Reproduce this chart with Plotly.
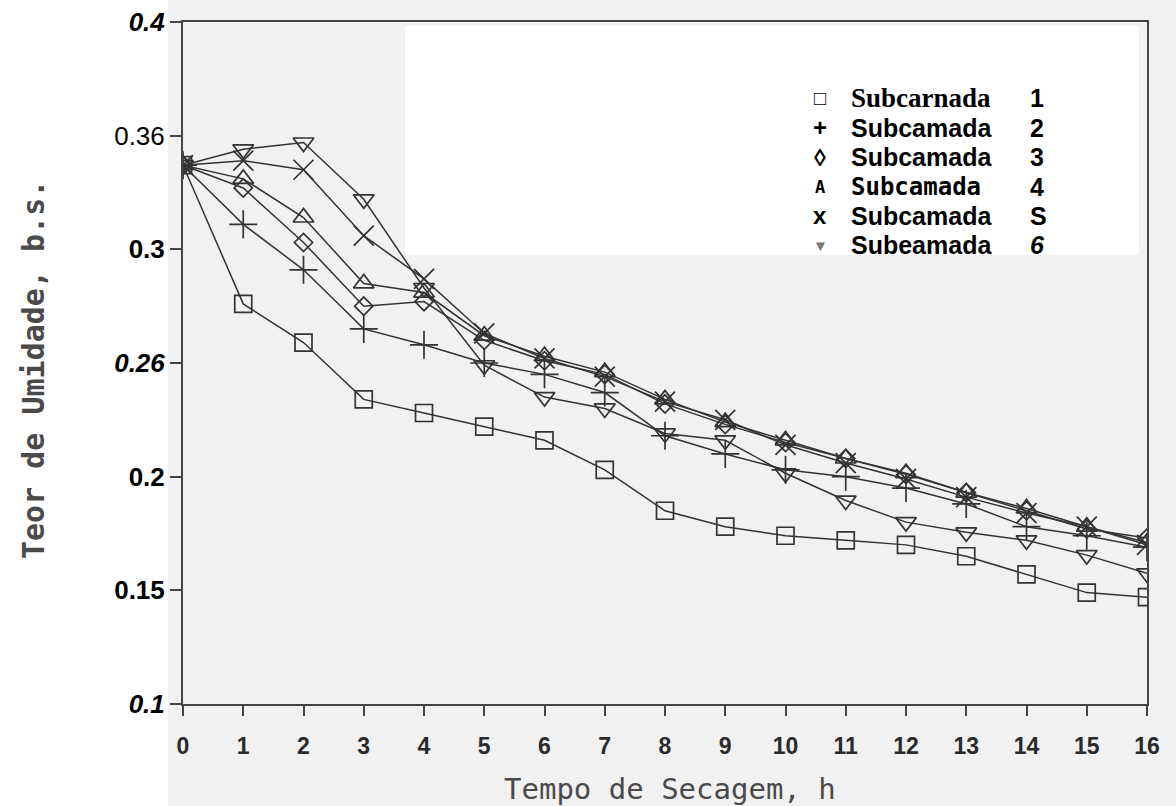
import plotly.graph_objects as go

# Drying time (h) and moisture content (dry basis) for six sub-layers
tempo = list(range(17))
sub1 = [0.337, 0.276, 0.259, 0.234, 0.228, 0.222, 0.216, 0.203, 0.185, 0.178, 0.174, 0.172, 0.170, 0.165, 0.157, 0.149, 0.147]
sub2 = [0.337, 0.311, 0.291, 0.265, 0.258, 0.250, 0.245, 0.237, 0.218, 0.210, 0.203, 0.200, 0.195, 0.188, 0.178, 0.174, 0.169]
sub3 = [0.337, 0.327, 0.303, 0.275, 0.277, 0.260, 0.251, 0.245, 0.232, 0.223, 0.215, 0.208, 0.201, 0.193, 0.185, 0.177, 0.173]
sub4 = [0.337, 0.331, 0.314, 0.285, 0.281, 0.262, 0.253, 0.246, 0.234, 0.224, 0.216, 0.208, 0.2015, 0.193, 0.186, 0.178, 0.171]
sub5 = [0.337, 0.339, 0.335, 0.306, 0.287, 0.263, 0.252, 0.244, 0.233, 0.225, 0.214, 0.206, 0.199, 0.191, 0.184, 0.178, 0.170]
sub6 = [0.337, 0.344, 0.347, 0.322, 0.283, 0.249, 0.235, 0.230, 0.219, 0.216, 0.2015, 0.1895, 0.180, 0.1755, 0.172, 0.1655, 0.1575]

y_tick_vals = [0.1, 0.15, 0.2, 0.25, 0.3, 0.35, 0.4]
y_tick_labels = ["0.1", "0.15", "0.2", "0.26", "0.3", "0.36", "0.4"]
y_tick_styles = ["<b><i>{}</i></b>", "<b>{}</b>", "<b>{}</b>", "<b><i>{}</i></b>", "<b>{}</b>", "{}", "<b><i>{}</i></b>"]
x_tick_labels = [str(v) for v in tempo]

legend_symbols = ["\u25a1", "+", "\u25ca", "A", "x", "\u25bc"]
legend_names = ["Subcarnada", "Subcamada", "Subcamada", "Subcamada", "Subcamada", "Subeamada"]
legend_nums = ["1", "2", "3", "4", "S", "<i>6</i>"]

series = [sub1, sub2, sub3, sub4, sub5, sub6]
symbols = ["square-open", "cross-thin", "diamond-open", "triangle-up-open", "x-thin", "triangle-down-open"]
sizes = [17, 20, 14, 18, 20, 18]

W, H = 1176, 806
L, R, T, B = 183, 1147, 22, 704


def px(x):
    return (x - L) / (R - L)


def py(y):
    return (B - y) / (B - T)


fig = go.Figure()
for vals, sym, sz in zip(series, symbols, sizes):
    fig.add_trace(go.Scatter(
        x=tempo, y=vals, mode="lines+markers",
        line=dict(color="#333333", width=1.5),
        marker=dict(symbol=sym, size=sz, color="#333333",
                    line=dict(color="#333333", width=1.7)),
        showlegend=False,
    ))

shapes = [
    # white strip behind the y tick labels
    dict(type="rect", xref="paper", yref="paper", x0=px(0), x1=px(168),
         y0=py(H), y1=py(0), fillcolor="white", line_width=0, layer="below"),
    # white panel holding the key
    dict(type="rect", xref="paper", yref="paper", x0=px(405), x1=px(1139),
         y0=py(255), y1=py(26), fillcolor="white", line_width=0, layer="below"),
]

annotations = []
row_y = [98, 128, 157, 187, 216, 245]
for i, (sym, name, num, yy) in enumerate(zip(legend_symbols, legend_names, legend_nums, row_y)):
    sym_color = "#777" if i == 5 else "black"
    sym_size = {0: 20, 3: 17, 5: 15}.get(i, 24)
    annotations.append(dict(
        xref="paper", yref="paper", x=px(820), y=py(yy), xanchor="center", yanchor="middle",
        text="<b>{}</b>".format(sym), showarrow=False,
        font=dict(size=sym_size, color=sym_color,
                  family="DejaVu Sans Mono" if i == 3 else "Liberation Sans"),
    ))
    name_font = "Liberation Serif" if i == 0 else ("DejaVu Sans Mono" if i == 3 else "Liberation Sans")
    annotations.append(dict(
        xref="paper", yref="paper", x=px(849), y=py(yy), xanchor="left", yanchor="middle",
        text="<b>{}</b>".format(name), showarrow=False,
        font=dict(size={0: 27, 3: 24}.get(i, 25), color="black", family=name_font),
    ))
    annotations.append(dict(
        xref="paper", yref="paper", x=px(1028), y=py(yy), xanchor="left", yanchor="middle",
        text="<b>{}</b>".format(num), showarrow=False,
        font=dict(size=25, color="black", family="Liberation Sans"),
    ))

annotations.append(dict(
    xref="paper", yref="paper", x=px(670), y=py(789), xanchor="center", yanchor="middle",
    text="Tempo de Secagem, h", showarrow=False,
    font=dict(size=29, color="#4a4a4a", family="DejaVu Sans Mono"),
))
annotations.append(dict(
    xref="paper", yref="paper", x=px(33), y=py(370), xanchor="center", yanchor="middle",
    text="<b>Teor de Umidade, b.s.</b>", textangle=-90, showarrow=False,
    font=dict(size=30, color="#4a4a4a", family="DejaVu Sans Mono"),
))

fig.update_layout(
    width=W, height=H,
    margin=dict(l=L, r=W - R, t=T, b=H - B, autoexpand=False),
    paper_bgcolor="#f1f1f1", plot_bgcolor="#f1f1f1",
    shapes=shapes, annotations=annotations,
)
fig.update_xaxes(
    range=[0, 16], tickvals=tempo, ticktext=["<b>{}</b>".format(s) for s in x_tick_labels],
    ticks="outside", ticklen=10, tickwidth=1.5, tickcolor="#444",
    ticklabelstandoff=10, automargin=False,
    showline=True, linecolor="#444", linewidth=2, mirror=True,
    showgrid=False, zeroline=False,
    tickfont=dict(size=23, color="#2a2a2a", family="Liberation Sans"),
)
fig.update_yaxes(
    range=[0.1, 0.4], tickvals=y_tick_vals,
    ticktext=[st.format(lb) for st, lb in zip(y_tick_styles, y_tick_labels)],
    ticks="outside", ticklen=11, tickwidth=1.5, tickcolor="#444",
    ticklabelstandoff=0, automargin=False,
    showline=True, linecolor="#444", linewidth=2, mirror=True,
    showgrid=False, zeroline=False,
    tickfont=dict(size=26, color="black", family="Liberation Sans"),
)

fig.write_html("out.html")
